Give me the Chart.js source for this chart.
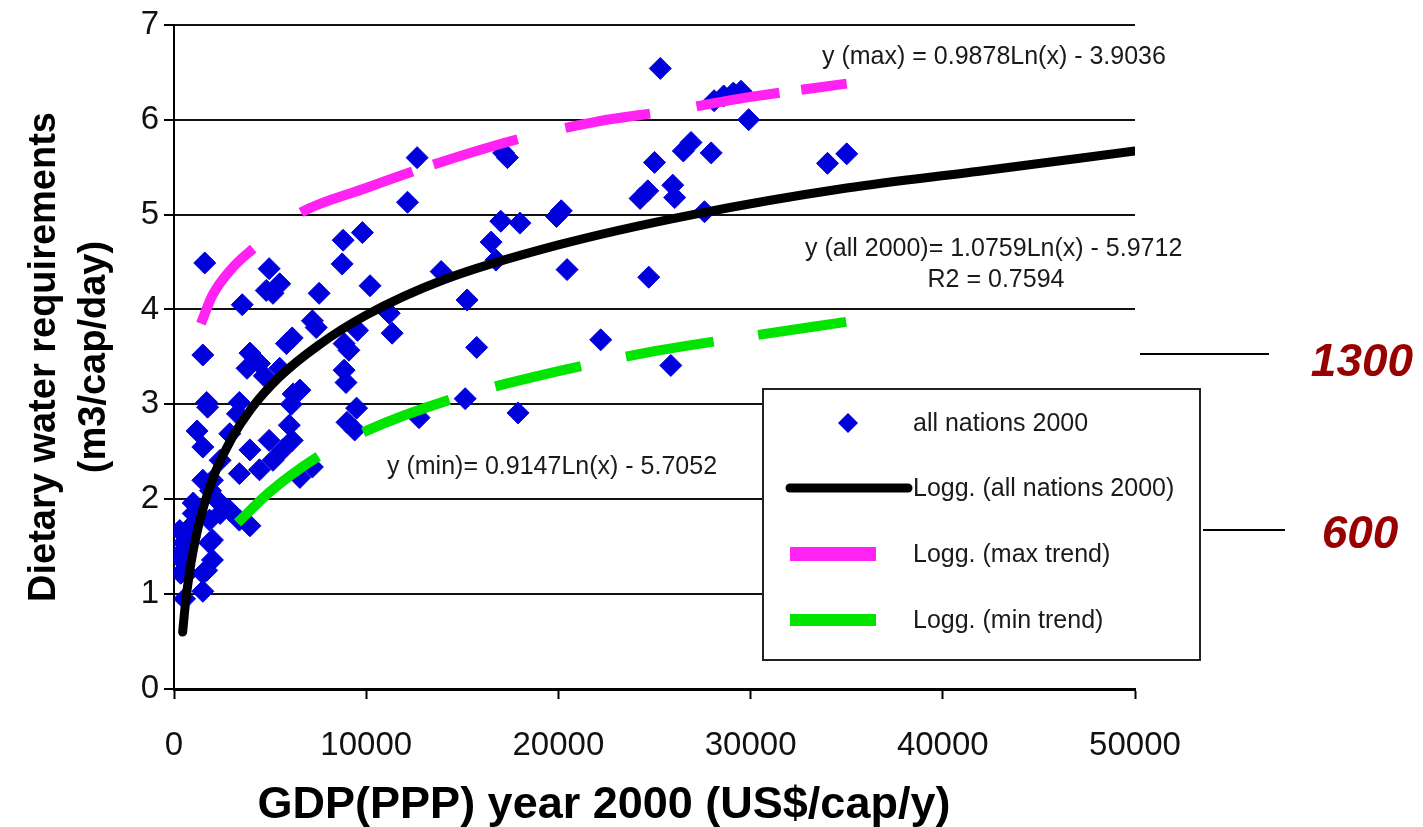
<!DOCTYPE html>
<html>
<head>
<meta charset="utf-8">
<script src="https://cdn.jsdelivr.net/npm/chart.js@4.4.1/dist/chart.umd.min.js"></script>
<style>
    html, body { margin: 0; padding: 0; background: #fff; }
    #wrap { width: 1423px; height: 827px; }
</style>
</head>
<body>
<div id="wrap"><canvas id="chart" width="1423" height="827"></canvas></div>
<script>
// ── Data ──────────────────────────────────────────────────────────────────

// all nations 2000: GDP (PPP, US$/cap/y) → dietary water (m3/cap/day)
const nationsGdp = [
    25300, 28100, 28600, 29100, 29500, 29900, 26900, 26500, 27950, 25000,
    34000, 35000, 24650, 24250, 25950, 26050, 27600, 20150, 19900, 20450,
    24700, 22200, 25850, 12650, 17150, 17350, 12150, 17000, 18000, 9800,
    8800, 16500, 16750, 8750, 13900, 10200, 15250, 11200, 9550, 11350,
    8850, 9100, 15750, 8850, 8950, 15150, 12750, 17900, 9500, 9000,
    9400, 1600, 4950, 5500, 5150, 4800, 7550, 3550, 1500, 3950,
    4450, 3800, 6150, 5850, 7200, 7400, 6550, 1700, 3400, 5500,
    4700, 6100, 1750, 3300, 1200, 1500, 2900, 3950, 4950, 5650,
    6150, 6000, 4450, 3400, 2000, 6550, 7200, 2400, 5150, 1000,
    2400, 2900, 3400, 3950, 850, 1850, 500, 1850, 400, 2000,
    700, 1700, 1500, 550, 1900, 1500, 2400, 300, 2000, 350,
    350, 1500, 1000, 600, 800, 6200,
];
const nationsWater = [
    6.54, 6.20, 6.25, 6.28, 6.30, 6.00, 5.76, 5.67, 5.65, 5.55,
    5.54, 5.64, 5.25, 5.17, 5.31, 5.18, 5.03, 5.04, 4.98, 4.42,
    4.34, 3.68, 3.41, 5.60, 5.65, 5.60, 5.13, 4.93, 4.91, 4.81,
    4.73, 4.71, 4.52, 4.48, 4.40, 4.25, 4.10, 3.96, 3.78, 3.75,
    3.64, 3.57, 3.60, 3.36, 3.23, 3.06, 2.86, 2.91, 2.96, 2.81,
    2.73, 4.49, 4.43, 4.27, 4.17, 4.20, 4.17, 4.05, 3.52, 3.54,
    3.43, 3.38, 3.70, 3.64, 3.88, 3.81, 3.15, 3.02, 3.02, 3.38,
    3.30, 3.00, 2.97, 2.90, 2.72, 2.55, 2.69, 2.52, 2.62, 2.52,
    2.62, 2.78, 2.31, 2.27, 2.20, 2.23, 2.34, 2.41, 2.41, 1.85,
    1.96, 1.88, 1.78, 1.72, 1.71, 1.78, 1.54, 1.54, 1.36, 1.36,
    1.22, 1.25, 1.03, 0.95, 2.09, 2.20, 1.85, 1.67, 1.57, 1.43,
    1.22, 1.22, 1.96, 1.45, 1.60, 3.11,
];

// trend curves, sampled along the drawn lines
const allTrendGdp   = [450, 600, 800, 1000, 1300, 1700, 2200, 3000, 4000, 5500, 7500, 10000, 14000, 20000, 27000, 35000, 42000, 50000];
const allTrendWater = [0.60, 0.91, 1.22, 1.46, 1.74, 2.03, 2.31, 2.64, 2.95, 3.29, 3.62, 3.94, 4.31, 4.68, 5.00, 5.28, 5.46, 5.67];
const maxTrendGdp   = [1400, 2000, 3000, 4000, 6500, 10000, 14000, 18000, 22000, 26000, 30000, 35000];
const maxTrendWater = [3.85, 4.15, 4.43, 4.62, 5.01, 5.28, 5.56, 5.80, 5.98, 6.10, 6.24, 6.38];
const minTrendGdp   = [3300, 5000, 7500, 10000, 15000, 20000, 25000, 30000, 35000];
const minTrendWater = [1.75, 2.08, 2.45, 2.72, 3.09, 3.35, 3.56, 3.72, 3.87];

const seriesLabels = ['all nations 2000', 'Logg. (all nations 2000)', 'Logg. (max trend)', 'Logg. (min trend)'];
const equationLabels = [
    'y (max) = 0.9878Ln(x) - 3.9036',
    'y (all 2000)= 1.0759Ln(x) - 5.9712',
    'R2 = 0.7594',
    'y (min)= 0.9147Ln(x) - 5.7052',
];
const sideLabels = ['1300', '600'];

const xTicks = [0, 10000, 20000, 30000, 40000, 50000];
const yTicks = [0, 1, 2, 3, 4, 5, 6, 7];
const xTitle = 'GDP(PPP) year 2000 (US$/cap/y)';
const yTitle = ['Dietary water requirements', '(m3/cap/day)'];

// ── Styles ─────────────────────────────────────────────────────────────────

const FONT = '"Liberation Sans", Arial, sans-serif';
const BLUE = '#0000dc';
const MAGENTA = '#ff22f2';
const GREEN = '#00e400';
const DARK_RED = '#990000';

// Excel-like long dashes (lengths in px, as seen on the picture)
const MAX_DASH = [93, 60, 119, 22, 88, 49, 86, 47, 84, 22, 60, 40];
const MIN_DASH = [105, 51, 92, 48, 88, 46, 89, 45, 89, 45];

const pairs = (xs, ys) => xs.map((x, i) => ({ x, y: ys[i] }));

// ── Overlay: titles, equations, legend box, side markers ───────────────────

const overlay = {
    id: 'overlay',
    afterDraw(chart) {
        const ctx = chart.ctx;
        const ds = chart.data.datasets;
        ctx.save();

        // axis titles
        ctx.fillStyle = '#000';
        ctx.textAlign = 'center';
        ctx.textBaseline = 'middle';
        ctx.font = `bold 45px ${FONT}`;
        ctx.fillText(xTitle, 604, 806);
        ctx.font = `bold 38px ${FONT}`;
        ctx.save();
        ctx.translate(45, 357);
        ctx.rotate(-Math.PI / 2);
        ctx.fillText(yTitle[0], 0, 0);
        ctx.fillText(yTitle[1], 0, 50);
        ctx.restore();

        // trend equations
        ctx.fillStyle = '#1a1a1a';
        ctx.font = `25px ${FONT}`;
        ctx.textAlign = 'left';
        ctx.fillText(equationLabels[0], 822, 57);
        ctx.fillText(equationLabels[1], 805, 249);
        ctx.textAlign = 'center';
        ctx.fillText(equationLabels[2], 996, 280);
        ctx.textAlign = 'left';
        ctx.fillText(equationLabels[3], 387, 467);

        // legend box
        ctx.fillStyle = '#fff';
        ctx.fillRect(763, 389, 437, 271);
        ctx.strokeStyle = '#222';
        ctx.lineWidth = 2;
        ctx.strokeRect(763, 389, 437, 271);

        const rows = [423, 488, 554, 620];
        // diamond
        ctx.fillStyle = ds[0].backgroundColor;
        ctx.beginPath();
        ctx.moveTo(848, rows[0] - 10);
        ctx.lineTo(858, rows[0]);
        ctx.lineTo(848, rows[0] + 10);
        ctx.lineTo(838, rows[0]);
        ctx.closePath();
        ctx.fill();
        // black line
        ctx.strokeStyle = ds[1].borderColor;
        ctx.lineWidth = 9;
        ctx.lineCap = 'round';
        ctx.beginPath();
        ctx.moveTo(790, rows[1]);
        ctx.lineTo(908, rows[1]);
        ctx.stroke();
        ctx.lineCap = 'butt';
        // colored bars
        ctx.fillStyle = ds[2].borderColor;
        ctx.fillRect(790, rows[2] - 7, 86, 14);
        ctx.fillStyle = ds[3].borderColor;
        ctx.fillRect(790, rows[3] - 6, 86, 12);

        ctx.fillStyle = '#1a1a1a';
        ctx.font = `25px ${FONT}`;
        ctx.textAlign = 'left';
        seriesLabels.forEach((label, i) => ctx.fillText(label, 913, rows[i] + 1));

        // side markers
        ctx.strokeStyle = '#000';
        ctx.lineWidth = 2;
        ctx.beginPath();
        ctx.moveTo(1140, 354); ctx.lineTo(1269, 354);
        ctx.moveTo(1203, 530); ctx.lineTo(1285, 530);
        ctx.stroke();
        ctx.fillStyle = DARK_RED;
        ctx.font = `italic bold 46px ${FONT}`;
        ctx.textAlign = 'center';
        ctx.fillText(sideLabels[0], 1362, 363);
        ctx.fillText(sideLabels[1], 1360, 535);

        ctx.restore();
    },
};

// ── Chart ──────────────────────────────────────────────────────────────────

new Chart(document.getElementById('chart'), {
    type: 'scatter',
    data: {
        datasets: [
            {
                label: seriesLabels[0],
                data: pairs(nationsGdp, nationsWater),
                pointStyle: 'rectRot',
                pointRadius: 11,
                pointHoverRadius: 11,
                backgroundColor: BLUE,
                borderColor: BLUE,
                borderWidth: 1,
                order: 4,
            },
            {
                label: seriesLabels[1],
                data: pairs(allTrendGdp, allTrendWater),
                showLine: true,
                borderColor: '#000',
                borderWidth: 9,
                borderCapStyle: 'round',
                cubicInterpolationMode: 'monotone',
                pointRadius: 0,
                pointHoverRadius: 0,
                order: 1,
            },
            {
                label: seriesLabels[2],
                data: pairs(maxTrendGdp, maxTrendWater),
                showLine: true,
                borderColor: MAGENTA,
                borderWidth: 10,
                borderDash: MAX_DASH,
                cubicInterpolationMode: 'monotone',
                pointRadius: 0,
                pointHoverRadius: 0,
                order: 2,
            },
            {
                label: seriesLabels[3],
                data: pairs(minTrendGdp, minTrendWater),
                showLine: true,
                borderColor: GREEN,
                borderWidth: 10,
                borderDash: MIN_DASH,
                cubicInterpolationMode: 'monotone',
                pointRadius: 0,
                pointHoverRadius: 0,
                order: 3,
            },
        ],
    },
    options: {
        responsive: false,
        animation: false,
        layout: { padding: { top: 24, right: 288, left: 0, bottom: 0 } },
        plugins: {
            legend: { display: false },
            tooltip: { enabled: false },
        },
        scales: {
            x: {
                type: 'linear',
                min: 0,
                max: 50000,
                afterBuildTicks: (s) => { s.ticks = xTicks.map(v => ({ value: v })); },
                afterFit: (s) => { s.height = 138; },
                ticks: {
                    color: '#111',
                    font: { family: FONT, size: 33 },
                    padding: 27,
                    maxRotation: 0,
                    callback: (v) => String(v),
                },
                grid: { drawOnChartArea: false, drawTicks: true, tickLength: 10, tickColor: '#000', tickWidth: 2 },
                border: { display: true, color: '#000', width: 3 },
            },
            y: {
                type: 'linear',
                min: 0,
                max: 7,
                afterBuildTicks: (s) => { s.ticks = yTicks.map(v => ({ value: v })); },
                afterFit: (s) => { s.width = 174; },
                ticks: {
                    color: '#111',
                    font: { family: FONT, size: 33 },
                    padding: 5,
                    callback: (v) => String(v),
                },
                grid: { color: '#111', lineWidth: 2, tickLength: 10, tickColor: '#000' },
                border: { display: true, color: '#000', width: 2 },
            },
        },
    },
    plugins: [overlay],
});
</script>
</body>
</html>
